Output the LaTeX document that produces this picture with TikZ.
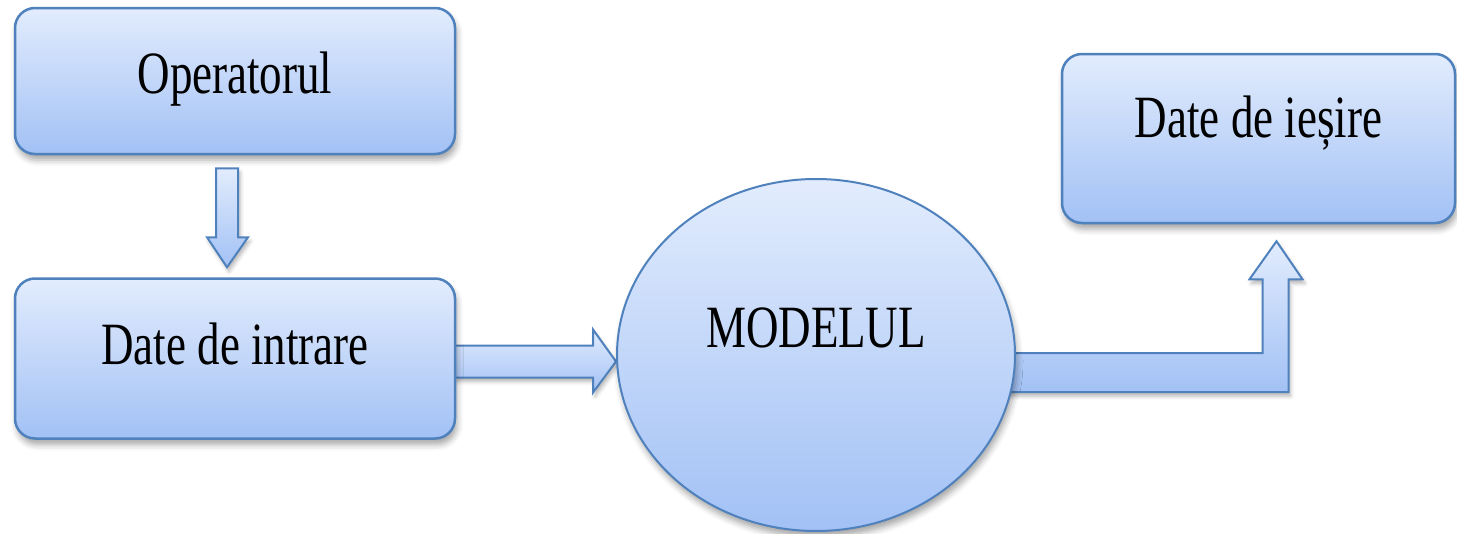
\documentclass[tikz,border=0pt]{standalone}
\usepackage{fontspec}
\setmainfont{Liberation Serif}[FakeStretch=0.75]
\usetikzlibrary{positioning, shapes.geometric, calc, backgrounds, shadows.blur}

\definecolor{boxtop}{RGB}{226,236,253}
\definecolor{boxbot}{RGB}{162,193,245}
\definecolor{boxline}{RGB}{79,129,189}

\begin{document}
\begin{tikzpicture}[
        x=1pt, y=-1pt,
        font=\fontsize{60pt}{66pt}\selectfont,
        node distance=122pt and 2cm,
        softshadow/.style={
            blur shadow={shadow xshift=2pt, shadow yshift=-6pt,
                shadow blur radius=6pt, shadow opacity=35}
        },
        box/.style={
            draw=boxline,
            line width=2.5pt,
            top color=boxtop,
            bottom color=boxbot,
            rounded corners=20pt,
            minimum width=440pt,
            inner sep=0pt,
            text height=40pt,
            align=center,
            softshadow
        },
        modelblock/.style={
            ellipse,
            draw=boxline,
            line width=2pt,
            top color=boxtop,
            bottom color=boxbot,
            minimum width=398pt,
            minimum height=352pt,
            inner sep=0pt,
            text height=40pt,
            softshadow
        },
        blockarrow/.style={
            draw=boxline,
            line width=2pt,
            line join=miter,
            top color=boxtop,
            bottom color=boxbot,
            blur shadow={shadow xshift=2pt, shadow yshift=-4pt,
                shadow blur radius=4pt, shadow opacity=30}
        }
    ]

    \useasboundingbox (0,0) rectangle (1457,533);

    \node[box, minimum height=146pt, text depth=16pt] (op) at (235,81) {Operatorul};

    \node[box, below=of op, minimum height=160pt, text depth=29pt] (inp) {Date de intrare};

    \node[modelblock, text depth=56pt] (mod) at (816,355) {MODELUL};

    \node[box, minimum width=393pt, minimum height=169pt, text depth=42pt] (out)
        at (1258.5,138.5) {Date de ieșire};

    % block arrows sit behind the boxes and the ellipse
    \begin{scope}[on background layer]
        \coordinate (dtop) at ($(op.south)+(-8,13)$);
        \coordinate (dtip) at ($(inp.north)+(-8,-10)$);
        \draw[blockarrow] ($(dtop)+(-11,0)$) -- ($(dtop)+(11,0)$)
            -- ($(dtip)+(11,-30)$) -- ($(dtip)+(21,-30)$) -- (dtip)
            -- ($(dtip)+(-20,-30)$) -- ($(dtip)+(-11,-30)$) -- cycle;

        \coordinate (rtail) at ($(inp.east)+(-2,3)$);
        \coordinate (rtip) at (mod.west |- rtail);
        \draw[blockarrow] ($(rtail)+(0,-16)$) -- ($(rtip)+(-23,-16)$)
            -- ($(rtip)+(-23,-32)$) -- (rtip) -- ($(rtip)+(-23,31)$)
            -- ($(rtip)+(-23,16)$) -- ($(rtail)+(0,16)$) -- cycle;

        \coordinate (btail) at ($(mod.east)+(-25,0)$);
        \coordinate (btip) at ($(out.south)+(18,17)$);
        \draw[blockarrow] ($(btail)+(0,-2)$) -- ($(btip |- btail)+(-14,-2)$)
            -- ($(btip)+(-14,38)$) -- ($(btip)+(-27,38)$) -- (btip)
            -- ($(btip)+(26,38)$) -- ($(btip)+(12,38)$)
            -- ($(btip |- btail)+(12,37)$) -- ($(btail)+(0,37)$) -- cycle;
    \end{scope}

\end{tikzpicture}
\end{document}
